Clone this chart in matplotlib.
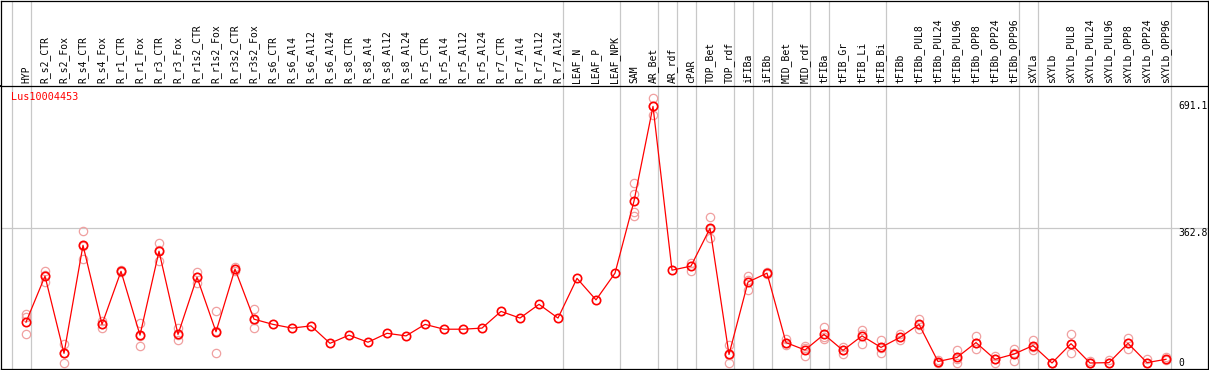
#!/usr/bin/env python3
"""Expression profile of Lus10004453 across sample groups."""

import matplotlib
matplotlib.use("Agg")
import matplotlib.pyplot as plt
import matplotlib.transforms as mtransforms

W, H, DPI = 1209, 370, 100

samples = [
    "HYP", "R_s2_CTR", "R_s2_Fox", "R_s4_CTR", "R_s4_Fox", "R_r1_CTR", "R_r1_Fox",
    "R_r3_CTR", "R_r3_Fox", "R_r1s2_CTR", "R_r1s2_Fox", "R_r3s2_CTR", "R_r3s2_Fox",
    "R_s6_CTR", "R_s6_Al4", "R_s6_Al12", "R_s6_Al24", "R_s8_CTR", "R_s8_Al4",
    "R_s8_Al12", "R_s8_Al24", "R_r5_CTR", "R_r5_Al4", "R_r5_Al12", "R_r5_Al24",
    "R_r7_CTR", "R_r7_Al4", "R_r7_Al12", "R_r7_Al24", "LEAF_N", "LEAF_P", "LEAF_NPK",
    "SAM", "AR_Bet", "AR_rdf", "cPAR", "TOP_Bet", "TOP_rdf", "iFIBa", "iFIBb",
    "MID_Bet", "MID_rdf", "tFIBa", "tFIB_Gr", "tFIB_Li", "tFIB_Bi", "tFIBb",
    "tFIBb_PUL8", "tFIBb_PUL24", "tFIBb_PUL96", "tFIBb_OPP8", "tFIBb_OPP24",
    "tFIBb_OPP96", "sXYLa", "sXYLb", "sXYLb_PUL8", "sXYLb_PUL24", "sXYLb_PUL96",
    "sXYLb_OPP8", "sXYLb_OPP24", "sXYLb_OPP96",
]

means = [
    110, 234, 26, 317, 104, 247, 75, 301, 77, 231, 84, 253, 118,
    104, 94, 100, 53, 75, 56, 80, 73, 104, 91, 91, 94, 139, 121, 158, 121,
    228, 170, 242, 436, 691.1, 250, 261, 362.8, 23, 218, 242,
    55, 35, 77, 34, 73, 42, 69, 104, 4, 15, 55, 10, 24,
    47, 0, 52, 0, 1, 53, 1, 10,
]

replicates = [
    [132, 123, 77], [248, 219, 236], [50, 1, 27], [355, 281, 315], [113, 95, 104],
    [250, 244, 247], [107, 46, 72], [322, 276, 305], [95, 61, 76], [245, 216, 232],
    [139, 26, 87], [259, 248, 252], [145, 94, 115],
    [], [], [], [], [], [], [], [], [], [], [], [], [], [], [], [],
    [], [], [],
    [485, 454, 406, 396], [713, 669, 691], [], [268, 249], [392, 336, 360],
    [48, 0, 21], [234, 197, 223], [240, 245],
    [64, 48, 53], [46, 19, 40], [97, 65, 70], [42, 25, 35], [89, 51, 78],
    [61, 26, 40], [77, 62], [118, 91, 103], [8, 1, 4], [36, 0, 10],
    [73, 38, 54], [19, 0, 11], [38, 6, 28], [62, 35, 44], [1, 0, 0],
    [77, 28, 51], [6, 0, 0], [8, 0], [68, 37, 55], [10, 0], [15, 8],
]

# group boundaries: a separator follows each of these sample indices
group_ends = [-1, 0, 28, 31, 33, 34, 35, 37, 38, 39, 41, 42, 45, 52, 53, 60]

tick_values = [691.1, 362.8, 0]
tick_labels = ["691.1", "362.8", "0"]
grid_values = [362.8]

gene = "Lus10004453"

RED = "#ff0000"
PINK = "#f0a0a0"
GREY = "#c8c8c8"
FONT = "DejaVu Sans Mono"


def px_box(x0, y0, x1, y1):
    """Pixel box (top-left origin) -> figure fraction rect."""
    return [x0 / W, (H - y1) / H, (x1 - x0) / W, (y1 - y0) / H]


def main():
    fig = plt.figure(figsize=(W / DPI, H / DPI), dpi=DPI)
    fig.patch.set_facecolor("white")

    ax = fig.add_axes(px_box(1, 85.5, 1207.5, 369))
    head = fig.add_axes(px_box(1, 0.5, 1207.5, 85.5), sharex=ax)

    # x: index 0 at px 26, step 19 px
    ax.set_xlim((1 - 26) / 19, (1207.5 - 26) / 19)
    # y: 0 at px 363, 0.3713 px per unit
    ax.set_ylim((363 - 369) / 0.3713, (363 - 85.5) / 0.3713)

    for a in (ax, head):
        a.set_xticks([])
        a.set_yticks([])
        for s in a.spines.values():
            s.set_color("black")
            s.set_linewidth(0.9)
        for g in group_ends:
            a.axvline(g + 0.25, color=GREY, lw=0.9, zorder=0)
    ax.spines["top"].set_linewidth(1.4)

    for v in grid_values:
        ax.axhline(v, color=GREY, lw=0.9, zorder=0)

    xs = list(range(len(samples)))
    for i, reps in enumerate(replicates):
        if reps:
            ax.plot([i] * len(reps), reps, "o", ms=6.0, mfc="none", mec=PINK,
                    mew=0.9, ls="none", zorder=2)

    ax.plot(xs, means, "-", color=RED, lw=0.9, zorder=3)
    ax.plot(xs, means, "o", ms=6.0, mfc="none", mec=RED, mew=1.2, ls="none",
            zorder=4)

    vas = ["center", "top", "center"]
    for v, lab, va in zip(tick_values, tick_labels, vas):
        ax.text(60.63, v, lab, ha="left", va=va, fontsize=7, family=FONT,
                color="black")

    ax.text(9.5 / 1206.5, (369 - 97) / (369 - 85.5), gene,
            transform=ax.transAxes, ha="left", va="center", fontsize=7.3,
            family=FONT, color=RED)

    htrans = mtransforms.blended_transform_factory(head.transData, head.transAxes)
    for i, name in enumerate(samples):
        head.text(i, 0.03, name, rotation=90, ha="center", va="bottom",
                  fontsize=7, family=FONT, color="black", transform=htrans)

    fig.savefig("out.png", dpi=DPI)
    plt.close(fig)


if __name__ == "__main__":
    main()
